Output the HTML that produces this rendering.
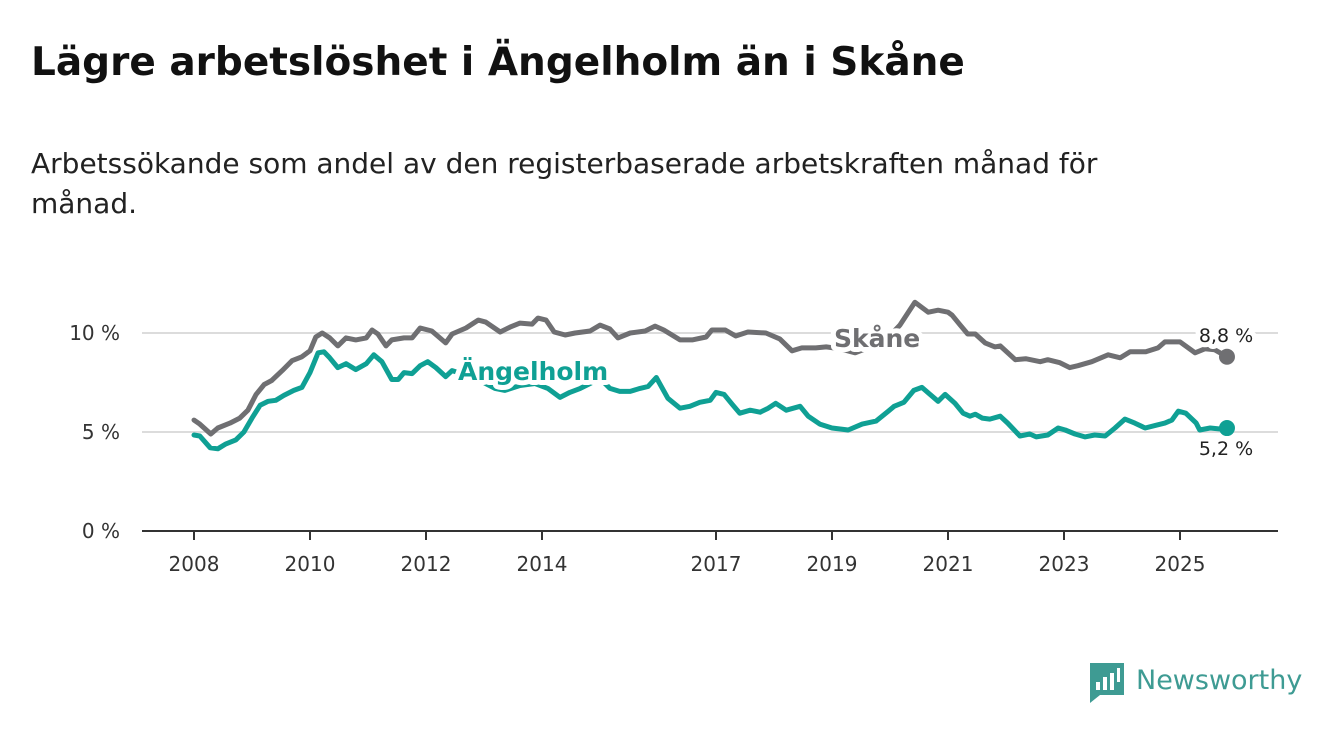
<!DOCTYPE html>
<html><head><meta charset="utf-8"><style>
body{margin:0;background:#fff;width:1340px;height:734px;overflow:hidden;font-family:"DejaVu Sans","Liberation Sans",sans-serif;}
h1{position:absolute;left:31px;top:40px;margin:0;font-size:39px;font-weight:bold;color:#111;}
p{position:absolute;left:31px;top:144px;margin:0;font-size:28px;line-height:40px;color:#222;width:1170px}
svg{position:absolute;left:0;top:0}
</style></head><body>
<h1>Lägre arbetslöshet i Ängelholm än i Skåne</h1>
<p>Arbetssökande som andel av den registerbaserade arbetskraften månad för månad.</p>
<svg id="c" width="1340" height="734"></svg>
<script>
const yTicks=[0,5,10];
const yTickLabels=["0 %","5 %","10 %"];
const xTicks=[2008,2010,2012,2014,2017,2019,2021,2023,2025];
const skaneYears=[2008.00,2008.10,2008.29,2008.41,2008.62,2008.79,2008.93,2009.07,2009.21,2009.34,2009.52,2009.69,2009.86,2010.00,2010.10,2010.21,2010.34,2010.48,2010.62,2010.79,2010.97,2011.07,2011.17,2011.31,2011.41,2011.62,2011.76,2011.90,2012.10,2012.34,2012.45,2012.69,2012.90,2013.03,2013.28,2013.45,2013.62,2013.83,2013.93,2014.07,2014.21,2014.40,2014.57,2014.83,2015.00,2015.17,2015.31,2015.52,2015.78,2015.95,2016.10,2016.38,2016.59,2016.83,2016.93,2017.16,2017.34,2017.55,2017.86,2018.10,2018.31,2018.48,2018.72,2018.90,2019.14,2019.40,2019.66,2019.91,2020.17,2020.43,2020.66,2020.83,2021.00,2021.07,2021.21,2021.34,2021.47,2021.64,2021.81,2021.90,2022.16,2022.34,2022.59,2022.72,2022.93,2023.10,2023.24,2023.48,2023.76,2023.97,2024.14,2024.41,2024.62,2024.74,2025.00,2025.26,2025.43,2025.60,2025.81];
const skaneValues=[5.6,5.4,4.9,5.2,5.45,5.7,6.1,6.9,7.4,7.6,8.1,8.6,8.8,9.1,9.8,10.0,9.75,9.35,9.75,9.65,9.75,10.15,9.95,9.35,9.65,9.75,9.75,10.25,10.1,9.5,9.95,10.25,10.65,10.55,10.05,10.3,10.5,10.45,10.75,10.65,10.05,9.9,10.0,10.1,10.4,10.2,9.75,10.0,10.1,10.35,10.15,9.65,9.65,9.8,10.15,10.15,9.85,10.05,10.0,9.7,9.1,9.25,9.25,9.3,9.2,9.0,9.3,9.6,10.4,11.55,11.05,11.15,11.05,10.9,10.4,9.95,9.95,9.5,9.3,9.35,8.65,8.7,8.55,8.65,8.5,8.25,8.35,8.55,8.9,8.75,9.05,9.05,9.25,9.55,9.55,9.0,9.2,9.15,8.8];
const angYears=[2008.00,2008.10,2008.28,2008.41,2008.55,2008.72,2008.86,2009.00,2009.14,2009.28,2009.41,2009.55,2009.72,2009.86,2010.00,2010.14,2010.24,2010.34,2010.48,2010.62,2010.79,2010.97,2011.10,2011.24,2011.41,2011.52,2011.62,2011.76,2011.90,2012.03,2012.17,2012.34,2012.45,2012.67,2012.93,2013.19,2013.36,2013.62,2013.88,2014.10,2014.31,2014.48,2014.66,2014.83,2015.00,2015.17,2015.34,2015.52,2015.69,2015.83,2015.97,2016.17,2016.38,2016.55,2016.72,2016.90,2017.00,2017.14,2017.28,2017.41,2017.59,2017.76,2017.90,2018.03,2018.21,2018.45,2018.59,2018.79,2019.00,2019.28,2019.52,2019.76,2019.97,2020.07,2020.24,2020.41,2020.55,2020.69,2020.83,2020.95,2021.12,2021.26,2021.38,2021.47,2021.59,2021.72,2021.90,2022.03,2022.24,2022.41,2022.52,2022.72,2022.90,2023.02,2023.19,2023.36,2023.53,2023.71,2023.88,2024.05,2024.22,2024.40,2024.60,2024.74,2024.86,2024.97,2025.10,2025.28,2025.34,2025.52,2025.69,2025.81];
const angValues=[4.85,4.8,4.2,4.15,4.4,4.6,5.0,5.7,6.35,6.55,6.6,6.85,7.1,7.25,8.0,9.0,9.05,8.75,8.25,8.45,8.15,8.45,8.9,8.55,7.65,7.65,8.0,7.95,8.35,8.55,8.25,7.8,8.1,7.9,7.6,7.2,7.1,7.35,7.45,7.2,6.75,7.0,7.2,7.45,7.7,7.2,7.05,7.05,7.2,7.3,7.75,6.7,6.2,6.3,6.5,6.6,7.0,6.9,6.4,5.95,6.1,6.0,6.2,6.45,6.1,6.3,5.8,5.4,5.2,5.1,5.4,5.55,6.05,6.3,6.5,7.1,7.25,6.9,6.55,6.9,6.45,5.95,5.8,5.9,5.7,5.65,5.8,5.45,4.8,4.9,4.75,4.85,5.2,5.1,4.9,4.75,4.85,4.8,5.2,5.65,5.45,5.2,5.35,5.45,5.6,6.05,5.95,5.45,5.1,5.2,5.15,5.2];

const NS="http://www.w3.org/2000/svg";
const FF='DejaVu Sans, Liberation Sans, sans-serif';
const svg=document.getElementById('c');
const X=y=>194+(y-2008)*58;
const Y=v=>531-v*19.8;
function mk(t,a,p){const e=document.createElementNS(NS,t);for(const k in a)e.setAttribute(k,a[k]);(p||svg).appendChild(e);return e;}

yTicks.forEach((v,i)=>{
  if(v>0){const g=mk('line',{x1:142,x2:1278,y1:Y(v),y2:Y(v),stroke:'#dcdcdc','stroke-width':2});
  
  }
  const t=mk('text',{x:120,y:Y(v)+7,'text-anchor':'end','font-size':20,fill:'#333','font-family':FF});
  t.textContent=yTickLabels[i];
  
  
});
const ax=mk('line',{x1:142,x2:1278,y1:531,y2:531,stroke:'#333','stroke-width':2});


xTicks.forEach(yr=>{
  const tk=mk('line',{x1:X(yr),x2:X(yr),y1:531,y2:540,stroke:'#333','stroke-width':2});
  
  
  const t=mk('text',{x:X(yr),y:571,'text-anchor':'middle','font-size':20,fill:'#333','font-family':FF});
  t.textContent=yr;
  
  
});
function line(ys,vs,col,name){
  const d=ys.map((y,i)=>(i?'L':'M')+X(y).toFixed(1)+','+Y(vs[i]).toFixed(1)).join('');
  const p=mk('path',{d:d,fill:'none',stroke:col,'stroke-width':5,'stroke-linejoin':'round','stroke-linecap':'round'});
  
  
  const n=ys.length-1;
  const c=mk('circle',{cx:X(ys[n]),cy:Y(vs[n]),r:8,fill:col});
  
  
}
line(skaneYears,skaneValues,'#6f6f72','skane');
line(angYears,angValues,'#0fa094','angelholm');
function lab(x,y,txt,col,size,w,name,anchor){
  const t=mk('text',{x:x,y:y,'font-size':size,'font-weight':w,fill:col,stroke:'#fff','stroke-width':10,'paint-order':'stroke','stroke-linejoin':'round','text-anchor':anchor||'start','font-family':FF});
  t.textContent=txt;
  
  
}
lab(834,347,'Skåne','#6f6f72',25,'bold','skane-series-label');
lab(458,380,'Ängelholm','#0fa094',25,'bold','angelholm-series-label');
const n1=skaneValues.length-1, n2=angValues.length-1;
lab(1226,342,skaneValues[n1].toFixed(1).replace('.',',')+' %','#222',19,'normal','skane-end-value','middle');
lab(1226,455,angValues[n2].toFixed(1).replace('.',',')+' %','#222',19,'normal','angelholm-end-value','middle');
const lg=mk('g',{});


mk('path',{d:'M1090,663 h34 v32 h-24 l-10,8 z',fill:'#3e9b93'},lg);
mk('rect',{x:1096,y:682,width:4,height:8,fill:'#fff'},lg);
mk('rect',{x:1103,y:677,width:4,height:13,fill:'#fff'},lg);
mk('rect',{x:1110,y:673,width:4,height:17,fill:'#fff'},lg);
mk('rect',{x:1117,y:668,width:3,height:14,fill:'#fff'},lg);
const lt=mk('text',{x:1136,y:689,'font-size':27,fill:'#3e9b93','font-family':FF},lg);
lt.textContent='Newsworthy';
</script>
</body></html>
